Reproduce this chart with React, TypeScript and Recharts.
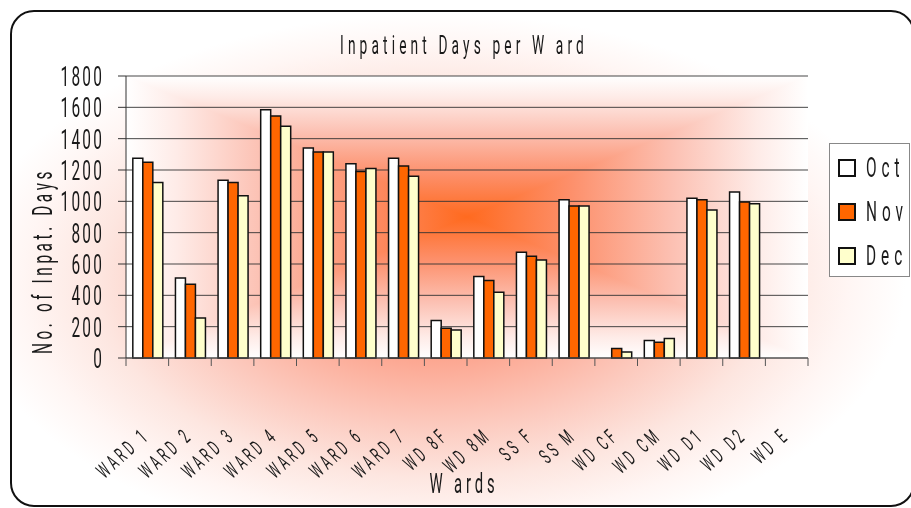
import { BarChart, Bar, XAxis, YAxis, CartesianGrid } from "recharts"

const wards = [
  "WARD 1", "WARD 2", "WARD 3", "WARD 4", "WARD 5", "WARD 6", "WARD 7", "WD 8F",
  "WD 8M", "SS F", "SS M", "WD CF", "WD CM", "WD D1", "WD D2", "WD E",
]
const oct = [1275, 510, 1135, 1585, 1340, 1240, 1275, 240, 520, 675, 1010, 0, 112, 1020, 1060, 0]
const nov = [1250, 470, 1120, 1545, 1315, 1190, 1225, 190, 495, 650, 970, 60, 100, 1010, 995, 0]
const dec = [1120, 255, 1035, 1480, 1315, 1210, 1160, 178, 420, 625, 970, 38, 125, 945, 985, 0]
const yTicks = [0, 200, 400, 600, 800, 1000, 1200, 1400, 1600, 1800]

const series = [
  { key: "oct", name: "Oct", color: "#FFFFFF" },
  { key: "nov", name: "Nov", color: "#FF6600" },
  { key: "dec", name: "Dec", color: "#FFFFCC" },
]

const data = wards.map((w, i) => ({ ward: w, oct: oct[i], nov: nov[i], dec: dec[i] }))

const W = 899
const H = 493
const M = { top: 64, right: 103, left: 0, bottom: 0 }
const AXIS_W = 114
const PLOT_W = W - AXIS_W - M.right
const PLOT_H = H - M.top - 147
const BAND = PLOT_W / wards.length

const plotFade: [number, string][] = [
  [0, "#ff6a1f"], [0.3, "#fd8f6a"], [0.6, "#fcc0b2"], [0.85, "#feebe7"], [1, "#ffffff"],
]

// condensed looking text: squeeze horizontally
const Narrow = ({ x, y, size, sx = 0.55, spacing = 0, anchor = "start", rotate = 0, children }: any) => (
  <text
    transform={`translate(${x},${y}) rotate(${rotate}) scale(${sx},1)`}
    fontSize={size}
    fontFamily="Roboto, sans-serif"
    letterSpacing={spacing}
    textAnchor={anchor}
    fill="#1a1a1a"
  >
    {children}
  </text>
)

// excel style "from center" fill: four triangles, each fading outward
const RectFade = ({ id, x, y, w, h, stops }: any) => {
  const cx = x + w / 2
  const cy = y + h / 2
  const parts = [
    { p: [x, y, x + w, y], g: [cx, cy, cx, y] },
    { p: [x + w, y, x + w, y + h], g: [cx, cy, x + w, cy] },
    { p: [x + w, y + h, x, y + h], g: [cx, cy, cx, y + h] },
    { p: [x, y + h, x, y], g: [cx, cy, x, cy] },
  ]
  return (
    <g shapeRendering="crispEdges">
      <defs>
        {parts.map((s, i) => (
          <linearGradient key={i} id={`${id}${i}`} gradientUnits="userSpaceOnUse" x1={s.g[0]} y1={s.g[1]} x2={s.g[2]} y2={s.g[3]}>
            {stops.map(([o, c]: [number, string]) => (
              <stop key={o} offset={o} stopColor={c} />
            ))}
          </linearGradient>
        ))}
      </defs>
      {parts.map((s, i) => (
        <polygon key={i} points={`${cx},${cy} ${s.p[0]},${s.p[1]} ${s.p[2]},${s.p[3]}`} fill={`url(#${id}${i})`} />
      ))}
    </g>
  )
}

const YTick = ({ x, y, payload }: any) => (
  <Narrow x={x - 14} y={y + 10} size={28} spacing={4} anchor="end">
    {payload.value}
  </Narrow>
)

const XTick = ({ x, y, payload, index }: any) => (
  <g>
    <line x1={x - BAND / 2} x2={x - BAND / 2} y1={y} y2={y + 8} stroke="#555" />
    {index === wards.length - 1 && (
      <line x1={x + BAND / 2} x2={x + BAND / 2} y1={y} y2={y + 8} stroke="#555" />
    )}
    <Narrow x={x + 4} y={y + 79} size={21} spacing={6.5} anchor="end" rotate={-42}>
      {payload.value}
    </Narrow>
  </g>
)

export default function App() {
  return (
    <div
      style={{
        position: "fixed",
        left: 10,
        top: 10,
        width: 901,
        height: 493,
        border: "2px solid #111",
        borderRadius: 24,
        overflow: "hidden",
        background:
          "radial-gradient(ellipse 470px 270px at 47% 55%, #fd8a60 0%, #fca994 30%, #fcc9bd 52%, #fde6e0 72%, #fff6f4 88%, #ffffff 100%)",
      }}
    >
      <svg width={901} height={493} style={{ position: "absolute", left: 0, top: 0 }}>
        <RectFade id="plotbg" x={AXIS_W} y={M.top} w={PLOT_W} h={PLOT_H} stops={plotFade} />
      </svg>

      <BarChart width={W} height={H} data={data} margin={M} barCategoryGap="16%" barGap={0}>
        <CartesianGrid horizontal vertical={false} stroke="#333" strokeOpacity={0.9} />
        <XAxis
          dataKey="ward"
          interval={0}
          height={147}
          tickSize={0}
          tickMargin={0}
          tick={<XTick />}
          axisLine={{ stroke: "#555" }}
        />
        <XAxis xAxisId="top" dataKey="ward" orientation="top" height={0} tick={false} axisLine={{ stroke: "#999" }} />
        <YAxis
          domain={[0, 1800]}
          ticks={yTicks}
          width={AXIS_W}
          tickSize={8}
          tickMargin={0}
          tick={<YTick />}
          axisLine={{ stroke: "#333" }}
          tickLine={{ stroke: "#333" }}
        />
        <YAxis yAxisId="right" orientation="right" width={0} tick={false} axisLine={{ stroke: "#999" }} />
        {series.map((s) => (
          <Bar
            key={s.key}
            dataKey={s.key}
            name={s.name}
            fill={s.color}
            stroke="#111"
            strokeWidth={1.5}
            isAnimationActive={false}
          />
        ))}
      </BarChart>

      <svg width={W} height={H} style={{ position: "absolute", left: 0, top: 0, pointerEvents: "none" }}>
        <Narrow x={452} y={42} size={25} spacing={7.5} anchor="middle">
          Inpatient Days per W ard
        </Narrow>
        <Narrow x={40} y={249} size={28} spacing={6.5} anchor="middle" rotate={-90}>
          No. of Inpat. Days
        </Narrow>
        <Narrow x={452} y={481} size={27} spacing={7} anchor="middle">
          W ards
        </Narrow>
        <g transform="translate(817,131)">
          <rect x={0.5} y={0.5} width={80} height={133} fill="#fff" stroke="#888" />
          {series.map((s, i) => (
            <g key={s.key}>
              <rect x={10} y={17 + i * 44} width={16} height={16} fill={s.color} stroke="#111" strokeWidth={2} />
              <Narrow x={37} y={34 + i * 44} size={28} spacing={9}>
                {s.name}
              </Narrow>
            </g>
          ))}
        </g>
      </svg>
    </div>
  )
}
